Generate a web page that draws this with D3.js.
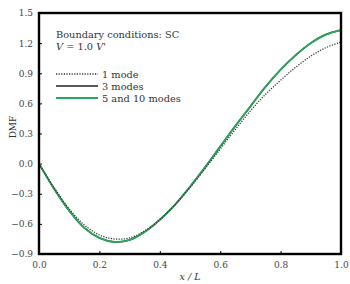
<!DOCTYPE html>
<html>
<head>
<meta charset="utf-8">
<script src="https://cdn.jsdelivr.net/npm/d3@7"></script>
<style>
  body { margin: 0; background: #fff; }
  svg text { font-family: "DejaVu Serif", "Liberation Serif", serif; fill: #333; }
  .tick text { font-size: 9px; fill: #444; }
</style>
</head>
<body>
<svg id="chart" width="350" height="284"></svg>
<script>
// x positions (x/L)
const xs = [0, 0.05, 0.1, 0.15, 0.2, 0.25, 0.3, 0.35, 0.4, 0.45, 0.5,
            0.55, 0.6, 0.65, 0.7, 0.75, 0.8, 0.85, 0.9, 0.95, 1.0];
// DMF values per series
const oneMode = [0, -0.24, -0.45, -0.61, -0.71, -0.75, -0.74, -0.67, -0.555, -0.41, -0.24,
                 -0.05, 0.145, 0.34, 0.525, 0.69, 0.83, 0.96, 1.07, 1.155, 1.21];
const threeModes = [0, -0.25, -0.47, -0.64, -0.74, -0.78, -0.76, -0.68, -0.56, -0.41, -0.23,
                    -0.035, 0.17, 0.375, 0.57, 0.765, 0.935, 1.08, 1.2, 1.285, 1.33];
const fiveTenModes = [0, -0.25, -0.47, -0.64, -0.74, -0.78, -0.76, -0.68, -0.56, -0.41, -0.23,
                      -0.035, 0.17, 0.375, 0.57, 0.765, 0.935, 1.08, 1.2, 1.285, 1.33];
const xTicks = [0, 0.2, 0.4, 0.6, 0.8, 1.0];
const yTicks = [-0.9, -0.6, -0.3, 0.0, 0.3, 0.6, 0.9, 1.2, 1.5];

const margin = { top: 13, right: 9, bottom: 30, left: 39 };
const width = 350 - margin.left - margin.right;
const height = 284 - margin.top - margin.bottom;

const svg = d3.select("#chart");
const g = svg.append("g")
    .attr("transform", "translate(" + margin.left + "," + margin.top + ")");

const x = d3.scaleLinear().domain([0, 1]).range([0, width]);
const y = d3.scaleLinear().domain([-0.9, 1.5]).range([height, 0]);

// Axes (ticks point inward)
const xAxis = g.append("g")
    .attr("transform", "translate(0," + height + ")")
    .call(d3.axisBottom(x).tickValues(xTicks).tickFormat(d3.format(".1f")).tickSize(-3).tickPadding(8));
const yAxis = g.append("g")
    .call(d3.axisLeft(y).tickValues(yTicks).tickFormat(d3.format(".1f")).tickSize(-3).tickPadding(6));
[xAxis, yAxis].forEach(a => {
    a.select(".domain").remove();
    a.selectAll(".tick line").attr("stroke", "#000").attr("stroke-width", 1);
});

function pathGen(vals) {
    return d3.line()
        .x((d, i) => x(xs[i]))
        .y(d => y(d))
        .curve(d3.curveCatmullRom)(vals);
}

g.append("path").attr("d", pathGen(threeModes))
    .attr("fill", "none").attr("stroke", "#222").attr("stroke-width", 1.6);
g.append("path").attr("d", pathGen(fiveTenModes))
    .attr("fill", "none").attr("stroke", "#27a85c").attr("stroke-width", 1.8);
g.append("path").attr("d", pathGen(oneMode))
    .attr("fill", "none").attr("stroke", "#333").attr("stroke-width", 1.3)
    .attr("stroke-dasharray", "1.2,1.4");

// frame
g.append("rect").attr("width", width).attr("height", height)
    .attr("fill", "none").attr("stroke", "#000").attr("stroke-width", 2.4);

// legend
const lx = 17, ly = 25;
g.append("text").attr("x", lx).attr("y", ly).attr("font-size", 9.8).text("Boundary conditions: SC");
const vt = g.append("text").attr("x", lx).attr("y", ly + 12).attr("font-size", 9.8);
vt.append("tspan").attr("font-style", "italic").text("V");
vt.append("tspan").text(" = 1.0 ");
vt.append("tspan").attr("font-style", "italic").text("V");
vt.append("tspan").text("'");

const legend = [
    { label: "1 mode", color: "#333", dash: "1.2,1.4", w: 1.3 },
    { label: "3 modes", color: "#222", dash: null, w: 1.6 },
    { label: "5 and 10 modes", color: "#27a85c", dash: null, w: 1.8 }
];
legend.forEach((d, i) => {
    const yy = ly + 36 + i * 12;
    g.append("line").attr("x1", lx).attr("x2", lx + 42).attr("y1", yy).attr("y2", yy)
        .attr("stroke", d.color).attr("stroke-width", d.w)
        .attr("stroke-dasharray", d.dash);
    g.append("text").attr("x", lx + 46).attr("y", yy + 3.5).attr("font-size", 9.8).text(d.label);
});

// axis labels
svg.append("text")
    .attr("transform", "translate(" + (margin.left + width / 2) + "," + 280 + ")")
    .attr("text-anchor", "middle").attr("font-size", 9.5).attr("font-style", "italic")
    .text("x / L");
svg.append("text")
    .attr("transform", "translate(16," + (margin.top + 114) + ") rotate(-90)")
    .attr("text-anchor", "middle").attr("font-size", 9)
    .text("DMF");
</script>
</body>
</html>
